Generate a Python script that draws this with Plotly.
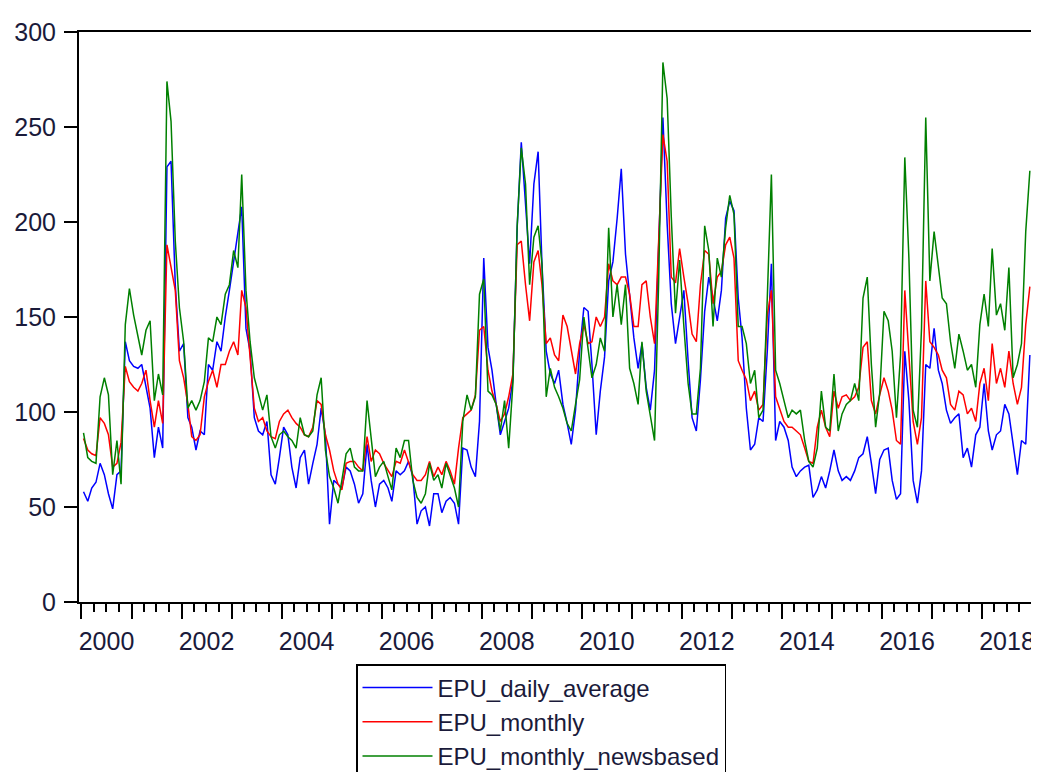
import pandas as pd
import plotly.graph_objects as go

# Monthly observations, 2000M01 - 2018M12
start_month = "2000-01-01"
n_months = 228

epu_daily_average = [
    58, 53, 60, 63, 73, 67, 57, 49, 67, 69, 137, 127,
    124, 123, 125, 113, 102, 76, 92, 81, 229, 232, 167, 132,
    136, 97, 92, 80, 90, 88, 125, 122, 137, 132, 150, 164,
    179, 195, 208, 144, 132, 97, 90, 88, 95, 67, 62, 76,
    92, 88, 71, 60, 76, 80, 62, 73, 83, 102, 88, 41,
    64, 62, 60, 71, 69, 62, 52, 57, 83, 64, 50, 62,
    64, 60, 53, 69, 67, 69, 74, 66, 41, 48, 50, 40,
    57, 57, 47, 53, 55, 52, 41, 81, 80, 71, 66, 95,
    181, 134, 122, 104, 88, 95, 102, 117, 197, 242, 207, 178,
    220, 237, 178, 132, 120, 115, 122, 104, 94, 83, 101, 132,
    155, 153, 125, 88, 111, 129, 169, 179, 202, 228, 183, 160,
    139, 123, 136, 113, 101, 122, 188, 255, 199, 157, 136, 150,
    164, 127, 97, 90, 117, 153, 171, 160, 148, 164, 202, 211,
    206, 160, 139, 102, 80, 83, 97, 95, 132, 178, 85, 95,
    92, 85, 71, 66, 69, 71, 72, 55, 59, 66, 60, 69,
    80, 69, 64, 66, 64, 69, 76, 78, 87, 73, 57, 75,
    80, 81, 64, 54, 57, 132, 106, 64, 52, 69, 125, 123,
    144, 122, 115, 101, 94, 97, 99, 76, 81, 71, 88, 92,
    115, 90, 80, 88, 90, 104, 99, 83, 67, 85, 83, 130,
]

epu_monthly = [
    86, 80, 78, 77, 97, 94, 88, 71, 73, 84, 124, 116,
    113, 111, 115, 122, 106, 92, 106, 94, 188, 176, 164, 127,
    118, 104, 87, 85, 88, 108, 116, 122, 113, 125, 125, 132,
    137, 130, 164, 155, 129, 102, 95, 97, 90, 87, 86, 95,
    99, 101, 97, 94, 92, 88, 87, 92, 106, 104, 88, 80,
    69, 62, 59, 73, 74, 74, 71, 69, 87, 74, 80, 78,
    73, 69, 66, 74, 73, 80, 73, 67, 64, 64, 67, 74,
    66, 71, 67, 74, 69, 62, 81, 97, 99, 101, 109, 143,
    145, 122, 111, 104, 95, 99, 108, 120, 188, 190, 167, 148,
    179, 185, 167, 136, 139, 130, 127, 151, 145, 132, 120, 136,
    146, 136, 137, 150, 145, 150, 178, 169, 167, 171, 171, 162,
    145, 145, 167, 169, 150, 136, 190, 246, 232, 171, 168, 186,
    171, 157, 141, 137, 167, 185, 183, 157, 171, 174, 188, 192,
    181, 127, 122, 117, 106, 111, 101, 104, 151, 164, 108, 101,
    95, 92, 92, 90, 88, 81, 74, 73, 92, 101, 92, 87,
    111, 102, 108, 109, 106, 108, 113, 134, 137, 106, 99, 109,
    118, 111, 101, 85, 83, 164, 132, 95, 83, 97, 169, 137,
    134, 130, 122, 118, 104, 101, 111, 109, 99, 102, 95, 115,
    123, 106, 136, 115, 123, 113, 132, 115, 104, 113, 146, 166,
]

epu_monthly_newsbased = [
    89, 76, 74, 73, 108, 118, 109, 67, 85, 62, 146, 165,
    151, 139, 130, 143, 148, 106, 120, 109, 274, 253, 190, 155,
    137, 102, 106, 101, 106, 116, 139, 137, 150, 146, 162, 167,
    185, 176, 225, 164, 137, 118, 109, 101, 109, 87, 81, 88,
    90, 87, 85, 81, 97, 88, 87, 90, 109, 118, 80, 66,
    60, 52, 64, 78, 81, 71, 69, 69, 106, 85, 66, 71,
    74, 66, 59, 81, 76, 85, 85, 64, 55, 52, 57, 73,
    64, 67, 60, 73, 66, 60, 50, 95, 109, 101, 108, 162,
    170, 111, 109, 104, 90, 106, 81, 115, 198, 239, 220, 167,
    192, 198, 178, 108, 123, 113, 108, 102, 94, 90, 104, 117,
    150, 132, 118, 125, 139, 132, 197, 150, 167, 146, 167, 123,
    115, 104, 137, 111, 97, 85, 169, 284, 265, 203, 152, 180,
    145, 115, 99, 99, 123, 198, 185, 145, 181, 171, 197, 214,
    204, 145, 145, 136, 115, 122, 97, 101, 160, 225, 122, 115,
    106, 97, 101, 99, 101, 85, 74, 71, 81, 111, 92, 90,
    120, 90, 99, 104, 106, 115, 106, 160, 171, 125, 92, 110,
    153, 148, 132, 97, 130, 234, 181, 101, 92, 144, 255, 169,
    195, 178, 160, 157, 137, 123, 141, 132, 122, 125, 113, 146,
    162, 145, 186, 151, 157, 143, 176, 118, 125, 136, 195, 227,
]

series_names = ["EPU_daily_average", "EPU_monthly", "EPU_monthly_newsbased"]
series_colors = ["#0000FF", "#FF0000", "#008000"]
y_ticks = [0, 50, 100, 150, 200, 250, 300]
label_years = [2000, 2002, 2004, 2006, 2008, 2010, 2012, 2014, 2016, 2018]

months = pd.date_range(start_month, periods=n_months, freq="MS")
x_dates = months + pd.Timedelta(days=15)

FONT = "Arial, Liberation Sans, sans-serif"
TXT = "#1a1a3a"

fig = go.Figure()
for name, vals, col in zip(series_names,
                           [epu_daily_average, epu_monthly, epu_monthly_newsbased],
                           series_colors):
    fig.add_trace(go.Scatter(x=x_dates, y=vals, mode="lines", name=name,
                             line=dict(color=col, width=1.5)))

x_range = ["1999-12-14", "2019-01-08"]
year_starts = [f"{y}-01-01" for y in range(2000, 2019)]
quarters = [f"{y}-{m:02d}-01" for y in range(2000, 2019) for m in (4, 7, 10)]

# the page body adds an 8px margin, so the figure is 8px smaller each way
fig.update_layout(
    width=1031, height=764,
    margin=dict(l=71, r=6, t=24, b=170, autoexpand=False),
    paper_bgcolor="white", plot_bgcolor="white",
    font=dict(family=FONT, color=TXT),
    xaxis=dict(
        type="date", range=x_range, automargin=False,
        tickmode="array", tickvals=year_starts, ticktext=[""] * len(year_starts),
        ticks="outside", ticklen=15, tickwidth=1.5, tickcolor="black",
        minor=dict(tickmode="array", tickvals=quarters, ticks="outside",
                   ticklen=8, tickwidth=1.5, tickcolor="black", showgrid=False),
        showline=True, linecolor="black", linewidth=2, mirror=True,
        showgrid=False, zeroline=False,
    ),
    xaxis2=dict(
        type="date", range=x_range, overlaying="x", anchor="y", side="bottom",
        automargin=False,
        tickmode="array", tickvals=[f"{y}-07-02" for y in label_years],
        ticktext=[str(y) for y in label_years],
        ticks="outside", ticklen=17, tickcolor="rgba(0,0,0,0)",
        tickfont=dict(size=25, family=FONT, color=TXT),
        showline=False, showgrid=False, zeroline=False,
    ),
    yaxis=dict(
        range=[0, 300], tickmode="array", tickvals=y_ticks, automargin=False,
        ticks="outside", ticklen=13, tickwidth=1.5, tickcolor="black",
        tickfont=dict(size=25, family=FONT, color=TXT),
        ticklabelstandoff=3,
        showline=True, linecolor="black", linewidth=2, mirror=True,
        showgrid=False, zeroline=False,
    ),
    legend=dict(
        x=(348 - 71) / 954, y=(594 - 656) / 570, xanchor="left", yanchor="top",
        bordercolor="black", borderwidth=1.5, bgcolor="white",
        font=dict(size=24, family=FONT, color=TXT),
        itemwidth=70,
    ),
    showlegend=True,
)
# invisible trace that activates the label axis (xaxis2)
fig.add_trace(go.Scatter(x=[x_range[0]], y=[None], xaxis="x2", showlegend=False,
                         hoverinfo="skip", mode="lines"))

fig.write_html("out.html")
